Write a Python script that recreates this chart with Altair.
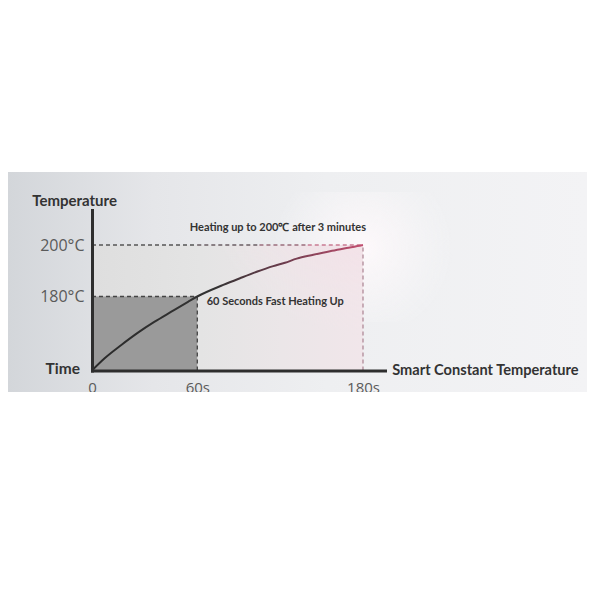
import altair as alt
import pandas as pd

# ---- data ----
time_s = [0, 7.2, 16.7, 26.2, 35.7, 45.2, 54.7, 60, 78.8, 90.9, 103.0, 115.0,
          123.5, 132.0, 144.0, 156.1, 168.2, 179.1, 180]
temp_c = [0, 29.7, 62, 92, 118.7, 143, 167, 180, 184.5, 187.1, 189.6, 191.8,
          193.1, 194.7, 196.2, 197.6, 198.8, 199.9, 200]

x_ticks = [0, 60, 180]
x_tick_labels = ["0", "60s", "180s"]
y_ticks = [180, 200]
y_tick_labels = ["180°C", "200°C"]

fast_time, fast_temp = 60, 180
full_time, full_temp = 180, 200

note_full = "Heating up to 200℃ after 3 minutes"
note_fast = "60 Seconds Fast Heating Up"

# ---- scales (piecewise, as drawn in the picture) ----
x_scale = alt.Scale(domain=[0, 60, 180, 195.9], range=[84, 189.3, 355, 377], nice=False, zero=False)
y_scale = alt.Scale(domain=[0, 180, 200, 213.6], range=[198.5, 124.5, 73, 38], nice=False, zero=False)


def label_expr(values, labels):
    expr = "''"
    for v, l in reversed(list(zip(values, labels))):
        expr = f"datum.value == {v} ? '{l}' : ({expr})"
    return expr


x_axis = alt.Axis(values=x_ticks, labelExpr=label_expr(x_ticks, x_tick_labels), ticks=False, grid=False,
                  domainColor="#2e2e2e", domainWidth=3, domainCap="square", offset=-21.5, zindex=2,
                  labelFont="Open Sans", labelFontSize=15, labelColor="#5a5a5a", labelPadding=10,
                  labelFlush=False, labelOverlap=False,
                  title="Smart Constant Temperature", titleX=383.7, titleY=4, titleAlign="left",
                  titleBaseline="alphabetic", titleFont="Lato", titleFontSize=14.6, titleFontWeight="bold",
                  titleColor="#333333")
y_axis = alt.Axis(values=y_ticks, labelExpr=label_expr(y_ticks, y_tick_labels), ticks=False, grid=False,
                  domainColor="#2e2e2e", domainWidth=3, domainCap="square", offset=-84, zindex=2,
                  labelFont="Open Sans", labelFontSize=16, labelColor="#5a5a5a", labelPadding=8,
                  title="Temperature", titleAngle=0, titleX=-60.3, titleY=33.7, titleAlign="left",
                  titleBaseline="alphabetic", titleFont="Lato", titleFontSize=15, titleFontWeight="bold",
                  titleColor="#333333")


def X(field):
    return alt.X(field, type="quantitative", scale=x_scale, axis=x_axis)


def Y(field):
    return alt.Y(field, type="quantitative", scale=y_scale, axis=y_axis)


one = pd.DataFrame({"k": [0]})

# background band
band = alt.Chart(one).mark_rect(fill={
    "gradient": "linear", "x1": 0, "x2": 1, "y1": 0, "y2": 0,
    "stops": [{"offset": 0, "color": "#d3d6da"}, {"offset": 0.25, "color": "#e5e6e9"},
              {"offset": 0.55, "color": "#eeeff1"}, {"offset": 1, "color": "#f3f3f5"}]}).encode(
    x=alt.value(0), x2=alt.value("width"), y=alt.value(0), y2=alt.value("height"))

# soft white halo around the 200°C / 180s corner
halo = alt.Chart(one).mark_rect(fill={
    "gradient": "radial", "x1": 0.5, "y1": 0.45, "r1": 0, "x2": 0.5, "y2": 0.45, "r2": 0.5,
    "stops": [{"offset": 0, "color": "rgba(255,250,252,0.9)"},
              {"offset": 0.5, "color": "rgba(252,248,250,0.5)"},
              {"offset": 1, "color": "rgba(248,248,250,0)"}]}).encode(
    x=alt.value(265), x2=alt.value(445), y=alt.value(20), y2=alt.value(150))

boxes = pd.DataFrame({"x": [0], "x2": [full_time], "y": [0], "y2": [full_temp]})
light_box = alt.Chart(boxes).mark_rect(fill={
    "gradient": "linear", "x1": 0, "x2": 1, "y1": 0, "y2": 0,
    "stops": [{"offset": 0, "color": "#dedede"}, {"offset": 0.4, "color": "#e4e4e4"},
              {"offset": 0.7, "color": "#ebe6e8"}, {"offset": 1, "color": "#f1e6ea"}]}).encode(
    x=X("x"), x2="x2", y=Y("y"), y2="y2")

pink = alt.Chart(boxes).mark_rect(fill={
    "gradient": "radial", "x1": 1, "y1": 0, "r1": 0, "x2": 1, "y2": 0, "r2": 0.6,
    "stops": [{"offset": 0, "color": "rgba(246,205,219,0.8)"},
              {"offset": 0.4, "color": "rgba(246,220,229,0.45)"},
              {"offset": 1, "color": "rgba(246,230,236,0)"}]}).encode(
    x=X("x"), x2="x2", y=Y("y"), y2="y2")

dark = pd.DataFrame({"x": [0], "x2": [fast_time], "y": [0], "y2": [fast_temp]})
dark_box = alt.Chart(dark).mark_rect(fill="#9a9a9a").encode(x=X("x"), x2="x2", y=Y("y"), y2="y2")

rules = pd.DataFrame({
    "x":  [0, fast_time, 0, 60, 105, 140, full_time],
    "x2": [fast_time, fast_time, 60, 105, 140, full_time, full_time],
    "y":  [fast_temp, 0, full_temp, full_temp, full_temp, full_temp, 0],
    "y2": [fast_temp, fast_temp, full_temp, full_temp, full_temp, full_temp, full_temp],
    "c":  ["#444444", "#444444", "#555555", "#6a5e63", "#9a6d7c", "#c97b93", "#b08a98"],
})
dashes = alt.Chart(rules).mark_rule(strokeDash=[4, 3], strokeWidth=1.3).encode(
    x=X("x"), x2="x2", y=Y("y"), y2="y2", color=alt.Color("c", scale=None))

curve_df = pd.DataFrame({"t": time_s, "T": temp_c})
curve = alt.Chart(curve_df).mark_line(strokeWidth=2, interpolate="monotone", color={
    "gradient": "linear", "x1": 0, "x2": 1, "y1": 0, "y2": 0,
    "stops": [{"offset": 0, "color": "#2a2a2a"}, {"offset": 0.45, "color": "#333333"},
              {"offset": 0.7, "color": "#6a3c4c"}, {"offset": 1, "color": "#c24f70"}]}).encode(
    x=X("t"), y=Y("T"))

time_lbl = alt.Chart(pd.DataFrame({"x": [0], "y": [0], "s": ["Time"]})).mark_text(
    align="right", baseline="alphabetic", dx=-12, dy=3.5, font="Lato", fontSize=15.5,
    fontWeight="bold", color="#333333").encode(x=X("x"), y=Y("y"), text="s")

full_lbl = alt.Chart(pd.DataFrame({"x": [full_time], "y": [full_temp], "s": [note_full]})).mark_text(
    align="right", baseline="alphabetic", dx=3, dy=-14, font="Lato", fontSize=11,
    fontWeight="bold", color="#333333").encode(x=X("x"), y=Y("y"), text="s")

fast_lbl = alt.Chart(pd.DataFrame({"x": [fast_time], "y": [fast_temp], "s": [note_fast]})).mark_text(
    align="left", baseline="alphabetic", dx=9.4, dy=8, font="Lato", fontSize=11,
    fontWeight="bold", color="#333333").encode(x=X("x"), y=Y("y"), text="s")

chart = alt.layer(band, halo, light_box, pink, dark_box, dashes, curve, time_lbl, full_lbl, fast_lbl).properties(
    width=579, height=220,
    autosize=alt.AutoSizeParams(type="none"),
    padding={"left": 0, "top": 164, "right": 0, "bottom": 0},
    background="white",
).configure_view(stroke=None)

chart.save("out.html", embed_options={"renderer": "svg", "actions": False})
